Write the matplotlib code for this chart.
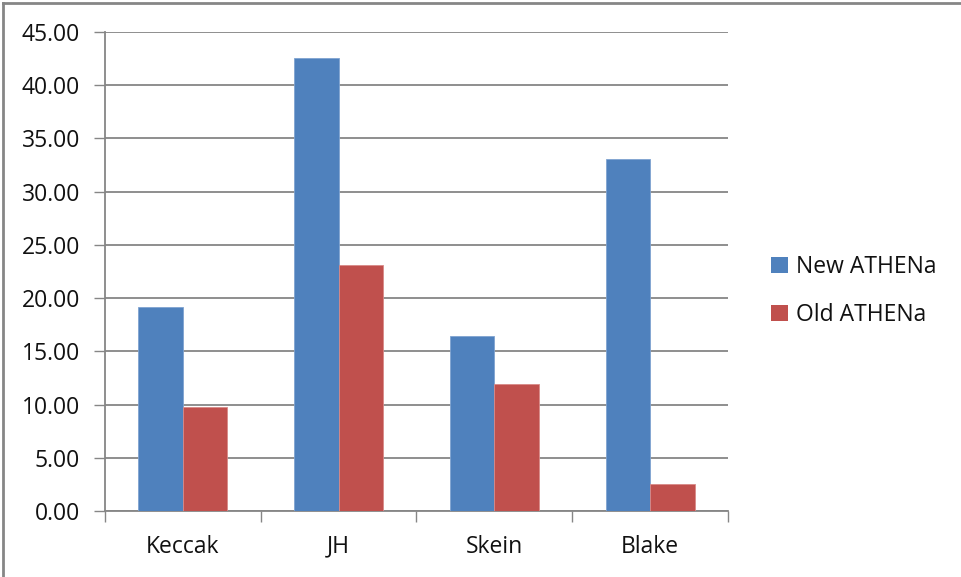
import numpy as np
import matplotlib
matplotlib.use("Agg")
import matplotlib.pyplot as plt
from matplotlib.lines import Line2D
from matplotlib.patches import Patch

plt.rcParams["font.family"] = ["Open Sans", "DejaVu Sans"]

categories = ["Keccak", "JH", "Skein", "Blake"]
new_athena = [19.2, 42.6, 16.4, 33.1]
old_athena = [9.8, 23.1, 11.9, 2.5]
series_names = ["New ATHENa", "Old ATHENa"]

BLUE = "#4f81bd"
RED = "#c0504d"
GRID = "#868686"

fig = plt.figure(figsize=(9.62, 5.77), dpi=100)
W, H = 962, 577
ax = fig.add_axes([105 / W, (H - 511) / H, (728 - 105) / W, (511 - 32) / H])

x = np.arange(len(categories))
width = 1 / 3.5  # excel-style gap width 150%
ax.bar(x - width / 2, new_athena, width, color=BLUE, edgecolor="#7fa3d0",
       linewidth=0.6, zorder=3, label=series_names[0])
ax.bar(x + width / 2, old_athena, width, color=RED, edgecolor="#d88a88",
       linewidth=0.6, zorder=3, label=series_names[1])

ax.set_xlim(-0.5, len(categories) - 0.5)
ax.set_ylim(0, 45)
ax.set_yticks(np.arange(0, 46, 5))
ax.set_yticklabels([f"{v:.2f}" for v in np.arange(0, 46, 5)])
ax.yaxis.grid(True, color=GRID, linewidth=1.3, zorder=0)

ax.set_xticks(x)
ax.set_xticklabels(categories)
ax.set_xticks(np.arange(-0.5, len(categories)), minor=True)
ax.tick_params(axis="x", which="major", length=0, pad=17, labelsize=16.5,
               labelcolor="#111111")
ax.tick_params(axis="x", which="minor", length=8, width=1.0, color=GRID,
               direction="out")
ax.tick_params(axis="y", length=8, width=1.0, color=GRID, direction="out",
               pad=10, labelsize=16.5, labelcolor="#111111")

for side in ["top", "right"]:
    ax.spines[side].set_visible(False)
for side in ["left", "bottom"]:
    ax.spines[side].set_color(GRID)
    ax.spines[side].set_linewidth(1.3)

handles = [Patch(facecolor=BLUE), Patch(facecolor=RED)]
fig.legend(handles, series_names, loc="center left",
           bbox_to_anchor=(750 / W, 1 - 291 / H), frameon=False,
           fontsize=16.5, labelcolor="#111111", handlelength=0.75,
           handleheight=0.75, handletextpad=0.35, labelspacing=1.05)

# outer chart border (top and left edges)
fig.add_artist(Line2D([2.5 / W, 1], [1 - 2.5 / H, 1 - 2.5 / H],
                      color=GRID, linewidth=2, transform=fig.transFigure))
fig.add_artist(Line2D([2.5 / W, 2.5 / W], [0, 1 - 2.5 / H],
                      color=GRID, linewidth=2, transform=fig.transFigure))

fig.savefig("out.png", dpi=100, facecolor="white")
